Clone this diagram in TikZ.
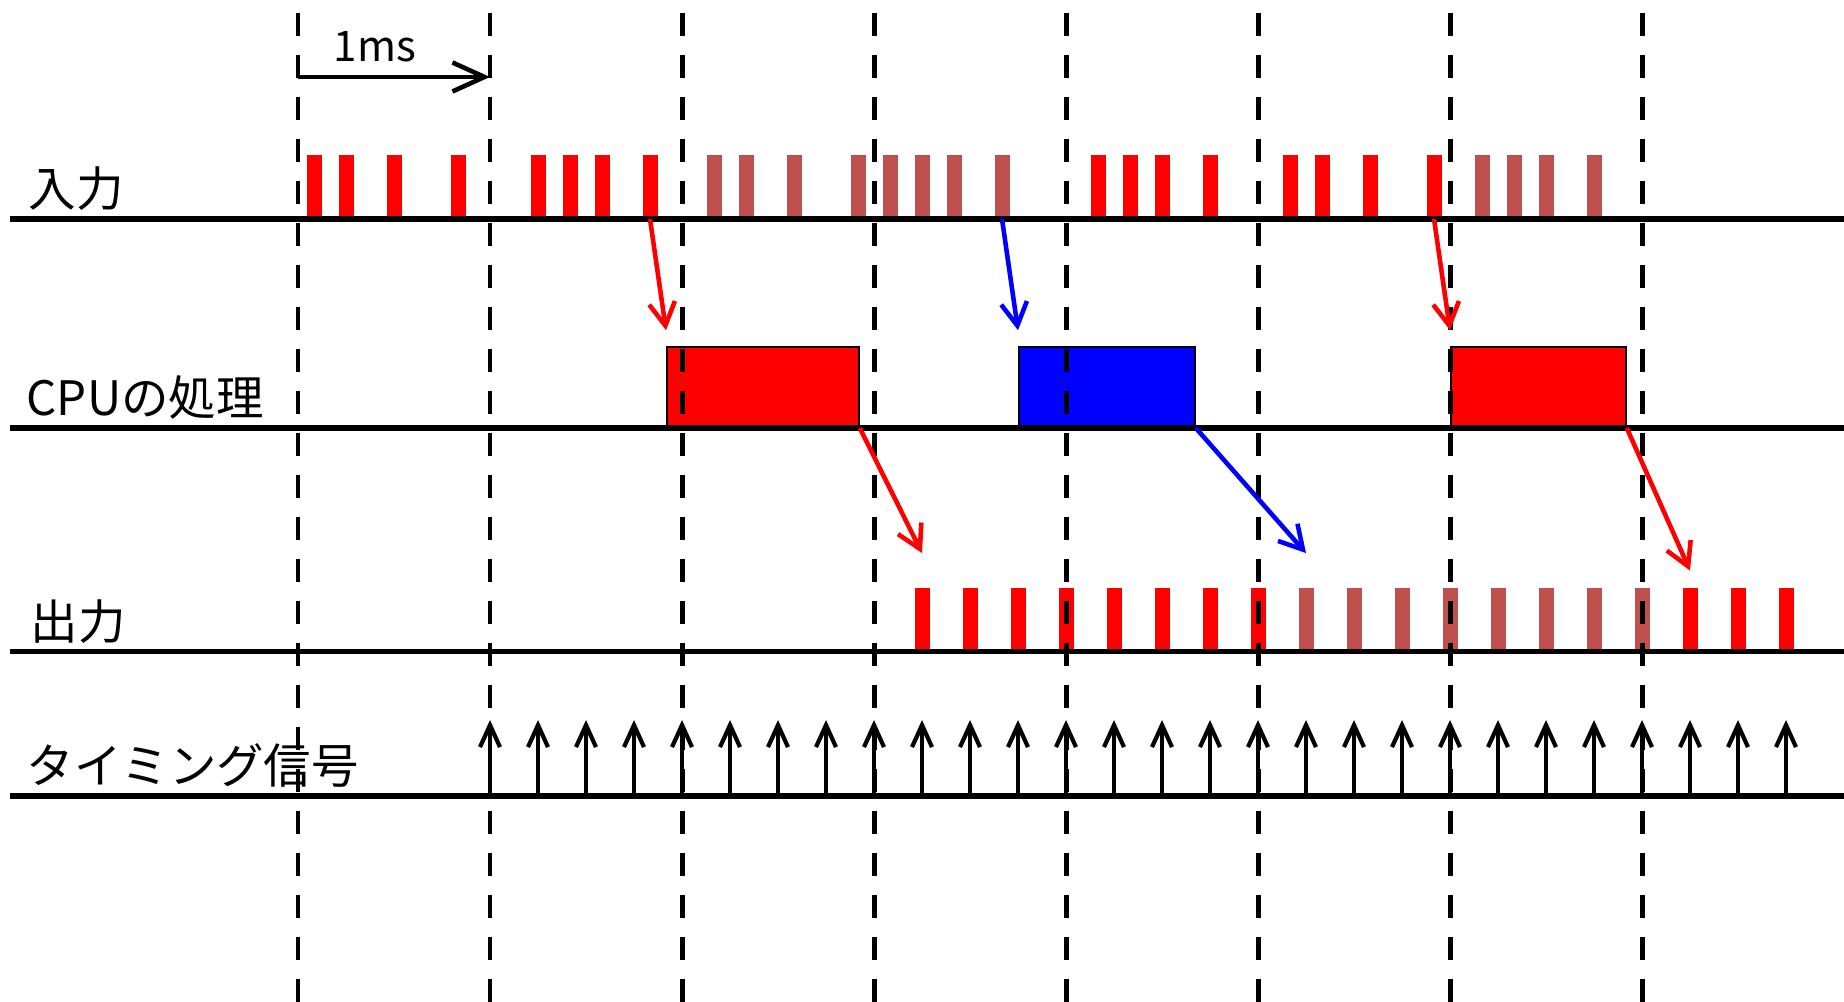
\documentclass[tikz,border=0pt]{standalone}
\usepackage{fontspec}
\setmainfont{Noto Sans CJK JP}
\usepackage{tikz}
\usetikzlibrary{arrows.meta,calc}
\definecolor{inbrown}{HTML}{C0504D}
\tikzset{
  msline/.style={line width=1.42pt, dash pattern=on 0.23cm off 0.19cm},
  track/.style={line width=1.7pt},
  sigbar/.style={rectangle, draw=none, inner sep=0pt, minimum width=0.15cm, minimum height=0.63cm, anchor=south},
  cpubox/.style={rectangle, draw=black, line width=0.5pt, inner sep=0pt, minimum height=0.80cm, anchor=south west},
  flow/.style={line width=1.3pt, -{Straight Barb[length=2.3mm,width=2.6mm]}},
  clk/.style={line width=1.2pt, -{Straight Barb[length=2.2mm,width=2mm]}},
  lbl/.style={anchor=base west, inner sep=0pt, font=\fontsize{13.5pt}{16pt}\selectfont}
}

\begin{document}
\begin{tikzpicture}
          \useasboundingbox (0,0) rectangle (18.44,10.02);

          % input pulses, 12 slots per ms
          \foreach \p/\col/\ks in {0/red/{1,3,6,10}, 1/red/{3,5,7,10}, 2/inbrown/{2,4,7,11}, 3/inbrown/{1,3,5,8}, 4/red/{2,4,6,9}, 5/red/{2,4,7,11}, 6/inbrown/{2,4,6,9}}
            \foreach \k in \ks
              \node[sigbar, fill=\col] (In-\p-\k) at ({2.98+1.92*\p+0.16*\k},7.83) {};

          % output pulses
          \foreach \k in {1,...,8,17,18,19}
            \node[sigbar, fill=red] (Out-\k) at ({8.74+0.48*\k},3.505) {};
          \foreach \k in {9,...,16}
            \node[sigbar, fill=inbrown] (Out-\k) at ({8.74+0.48*\k},3.505) {};

          % cpu jobs
          \node[cpubox, fill=red, minimum width=1.92cm] (CpuA) at (6.66,5.74) {};
          \node[cpubox, fill=blue, minimum width=1.76cm] (CpuB) at (10.18,5.74) {};
          \node[cpubox, fill=red, minimum width=1.75cm] (CpuC) at (14.50,5.74) {};

          \draw[track] (0.10,7.83) -- (18.44,7.83);
          \draw[track] (0.10,5.74) -- (18.44,5.74);
          \draw[track] (0.10,3.505) -- (18.44,3.505);
          \draw[track] (0.10,2.06) -- (18.44,2.06);

          \foreach \i in {0,...,7}
            \draw[msline] ({2.98+1.92*\i},9.89) -- ({2.98+1.92*\i},0);

          % timing signal
          \foreach \j in {0,...,27}{
            \coordinate (ClkFoot-\j) at ({4.90+0.48*\j},2.06);
            \coordinate (ClkTip-\j) at ({4.90+0.48*\j},2.82);
            \draw[clk] (ClkFoot-\j) -- (ClkTip-\j);
          }

          \draw[flow, red] (In-1-10.south) -- ($(CpuA.north west)+(0,0.16)$);
          \draw[flow, blue] (In-3-8.south) -- ($(CpuB.north west)+(0,0.16)$);
          \draw[flow, red] (In-5-11.south) -- ($(CpuC.north west)+(0,0.16)$);
          \draw[flow, red] (CpuA.south east) -- ($(Out-1.north)+(0,0.34)$);
          \draw[flow, blue] (CpuB.south east) -- ($(Out-9.north)+(0,0.34)$);
          \draw[flow, red] (CpuC.south east) -- ($(Out-17.north)+(0,0.165)$);

          % 1ms scale
          \coordinate (MsStart) at (2.98,9.25);
          \coordinate (MsEnd) at (4.90,9.25);
          \draw[line width=1.3pt, -{Straight Barb[length=3.2mm,width=2.9mm]}] (MsStart) -- (MsEnd);
          \node[anchor=base west, inner sep=0pt, font=\fontsize{12pt}{14pt}\selectfont] (MsLabel) at (3.33,9.40) {1ms};

          \node[lbl] (InputLabel) at (0.28,7.95) {入力};
          \node[lbl] (CpuLabel) at (0.26,5.86) {CPUの処理};
          \node[lbl] (OutputLabel) at (0.30,3.625) {出力};
          \node[lbl] (ClockLabel) at (0.26,2.18) {タイミング信号};
        \end{tikzpicture}
\end{document}
